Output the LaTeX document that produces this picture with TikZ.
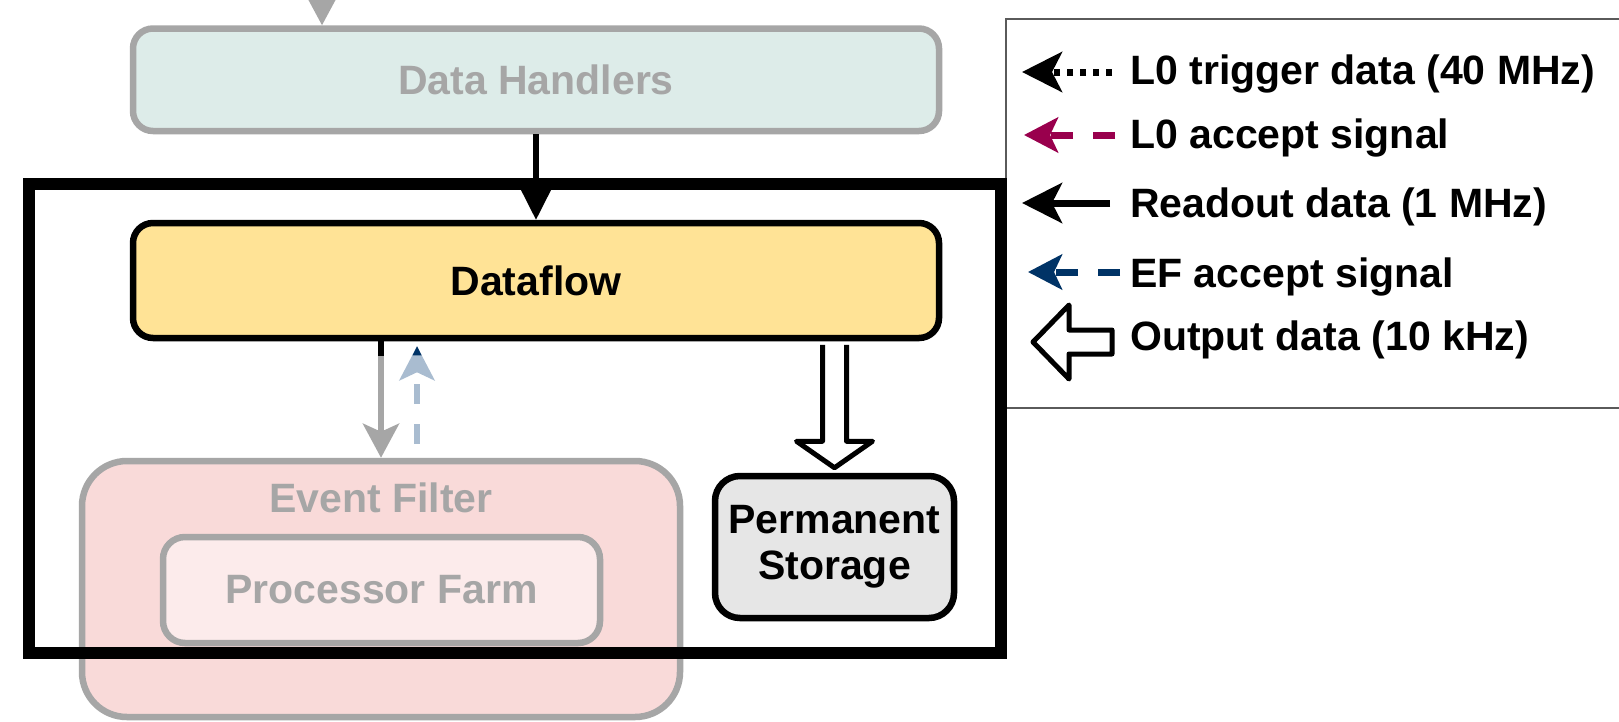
\documentclass[tikz,border=0pt]{standalone}
\usepackage{fontspec}
\setmainfont{Liberation Sans}
\usetikzlibrary{arrows.meta,calc}

\definecolor{dhfill}{RGB}{221,236,233}
\definecolor{dffill}{RGB}{255,227,150}
\definecolor{effill}{RGB}{249,218,217}
\definecolor{pffill}{RGB}{252,235,235}
\definecolor{psfill}{RGB}{230,230,230}
\definecolor{fadegray}{RGB}{166,166,166}
\definecolor{fadeblue}{RGB}{169,188,208}
\definecolor{efblue}{RGB}{0,51,102}
\definecolor{lzero}{RGB}{153,0,77}
\definecolor{legframe}{RGB}{90,90,90}

\begin{document}
\begin{tikzpicture}[x=1pt,y=-1pt,
  labelfont/.style={font=\bfseries\fontsize{41}{46}\selectfont},
  box/.style={draw, line width=6.5pt, rounded corners=20pt, inner sep=0pt,
    labelfont, align=center},
  fadedbox/.style={box, draw=fadegray, text=fadegray},
  solidbox/.style={box, draw=black, text=black},
  tip/.style={-{Stealth[length=34pt,width=36pt,inset=8pt]}},
  bigtip/.style={-{Stealth[length=40pt,width=40pt,inset=10pt]}},
  smalltip/.style={-{Stealth[length=34pt,width=35pt,inset=8pt]}},
  link/.style={line width=6pt, tip},
  keyline/.style={line width=7pt},
  legtext/.style={anchor=base west, inner sep=0pt, labelfont},
  hollow/.style={draw=black, fill=white, line width=5pt, line join=round},
]
\useasboundingbox (0,0) rectangle (1619,721);
\fill[white] (0,0) rectangle (1619,721);

% ---- Event Filter with its processor farm
\node[fadedbox, fill=effill, minimum width=598pt, minimum height=256pt,
      rounded corners=45pt] (ef) at (381,589) {};
\node[labelfont, text=fadegray, anchor=base, inner sep=0pt] (eftitle) at (381,512) {Event Filter};
\node[fadedbox, fill=pffill, minimum width=437pt, minimum height=106pt,
      rounded corners=22pt] (pf) at (381.5,590) {Processor Farm};

% ---- Data Handlers and Dataflow
\node[fadedbox, fill=dhfill, minimum width=806pt, minimum height=102.5pt] (dh) at (536,79.75) {Data Handlers};
\node[solidbox, fill=dffill, minimum width=806pt, minimum height=115pt] (df) at (536,280.5) {Dataflow};

% ---- Permanent storage
\node[solidbox, fill=psfill, minimum width=239pt, minimum height=142pt,
      rounded corners=25pt] (ps) at (834.5,547) {Permanent\\Storage};

% ---- connectors
\coordinate (feed) at (322,-60);
\draw[link, fadegray] (feed) -- (feed |- dh.north);
\draw[line width=6pt, black, bigtip] (dh.south) -- (df.north);

% readout towards the event filter
\draw[link, fadegray] (df.south -| ef.north) -- (ef.north);
\draw[line width=6pt, black] (df.south -| ef.north) -- ++(0,15);

% event filter accept signal
\coordinate (efa) at ($(ef.north)+(36,-14)$);
\coordinate (efb) at ($(df.south -| efa)+(0,5)$);
\draw[line width=6pt, fadeblue, dash pattern=on 20pt off 20pt, smalltip] (efa) -- (efb);
\fill[efblue] (efb) -- ++(-4.5,9) -- ++(9,0) -- cycle;

% output to permanent storage
\path (df.south -| ps.north) coordinate (ha);
\draw[hollow] ($(ha)+(-12,3.5)$) -- ($(ha)+(-12,100)$) -- ($(ha)+(-38,100)$)
  -- ($(ps.north)+(0,-5)$) -- ($(ha)+(38,100)$) -- ($(ha)+(12,100)$) -- ($(ha)+(12,3.5)$);

% ---- legend
\draw[legframe, line width=2pt] (1006,19) rectangle (1640,408);

\coordinate (k1a) at (1112,72);  \coordinate (k1b) at (1022,72);
\coordinate (k2a) at (1115,135); \coordinate (k2b) at (1024,135);
\coordinate (k3a) at (1110,203); \coordinate (k3b) at (1022,203);
\coordinate (k4a) at (1120,272); \coordinate (k4b) at (1028,272);
\coordinate (k5) at (1033,342);

\draw[keyline, black, dash pattern=on 6pt off 7pt, bigtip] (k1a) -- (k1b);
\draw[keyline, lzero, dash pattern=on 22pt off 20pt, smalltip] (k2a) -- (k2b);
\draw[keyline, black, bigtip] (k3a) -- (k3b);
\draw[keyline, efblue, dash pattern=on 22pt off 20pt, smalltip] (k4a) -- (k4b);
\draw[hollow] (k5) -- ++(36,-37) -- ++(0,25) -- ++(43,0) -- ++(0,24)
  -- ++(-43,0) -- ++(0,25) -- cycle;

\node[legtext] (t1) at (1130,84)  {L0 trigger data (40 MHz)};
\node[legtext] (t2) at (1130,148) {L0 accept signal};
\node[legtext] (t3) at (1130,217) {Readout data (1 MHz)};
\node[legtext] (t4) at (1130,287) {EF accept signal};
\node[legtext] (t5) at (1130,350) {Output data (10 kHz)};

% ---- enclosing frame
\draw[line width=12pt] (29,184) rectangle (1001,653);
\end{tikzpicture}
\end{document}
